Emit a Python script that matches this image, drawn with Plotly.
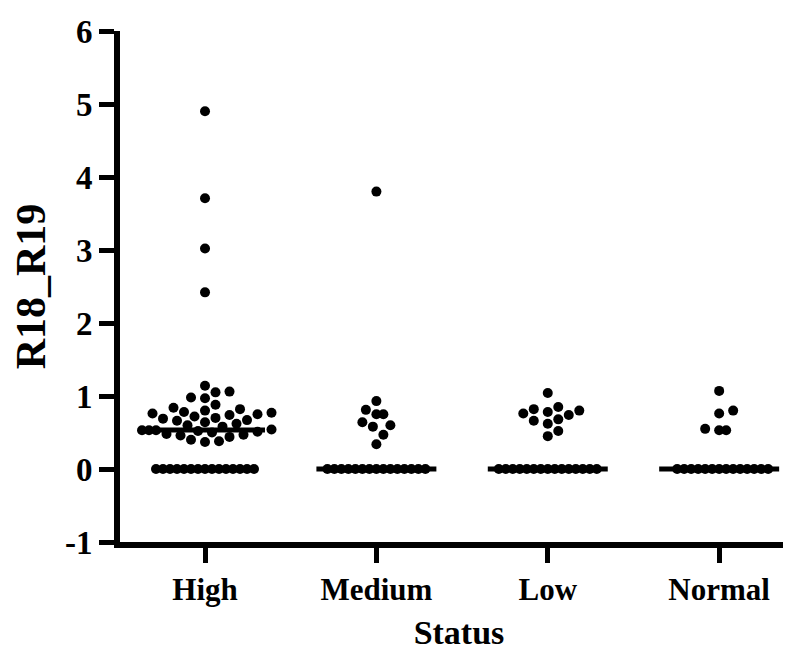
import numpy as np
import plotly.graph_objects as go

categories = ["High", "Medium", "Low", "Normal"]

high_values = [4.90, 3.71, 3.02, 2.42,
               1.14, 1.06, 1.05, 0.98, 0.97, 0.88,
               0.84, 0.82, 0.80, 0.78, 0.77, 0.76, 0.75, 0.74, 0.72, 0.70,
               0.69, 0.67, 0.66, 0.64, 0.62, 0.60, 0.58,
               0.54, 0.53, 0.53, 0.53,
               0.52, 0.51, 0.50, 0.48, 0.47, 0.46, 0.44, 0.40, 0.38, 0.37,
               0.0, 0.0, 0.0, 0.0, 0.0, 0.0, 0.0, 0.0, 0.0, 0.0, 0.0, 0.0, 0.0, 0.0, 0.0]
medium_values = [3.80, 0.93, 0.81, 0.75, 0.75, 0.64, 0.60, 0.58, 0.47, 0.34,
                 0.0, 0.0, 0.0, 0.0, 0.0, 0.0, 0.0, 0.0, 0.0, 0.0, 0.0, 0.0, 0.0, 0.0, 0.0]
low_values = [1.04, 0.85, 0.82, 0.80, 0.78, 0.76, 0.74, 0.68, 0.66, 0.62, 0.52, 0.45,
              0.0, 0.0, 0.0, 0.0, 0.0, 0.0, 0.0, 0.0, 0.0, 0.0, 0.0, 0.0, 0.0, 0.0, 0.0]
normal_values = [1.07, 0.80, 0.76, 0.55, 0.53, 0.53,
                 0.0, 0.0, 0.0, 0.0, 0.0, 0.0, 0.0, 0.0, 0.0, 0.0, 0.0, 0.0, 0.0, 0.0]

y_tick_values = [-1, 0, 1, 2, 3, 4, 5, 6]

series = [high_values, medium_values, low_values, normal_values]

# layout geometry (pixels)
W, H = 791, 656
ML, MR, MT, MB = 112, 1, 23, 122
X_RANGE = [-0.496, 3.46]
Y_RANGE = [-1, 6]
px_x = (W - ML - MR) / (X_RANGE[1] - X_RANGE[0])
px_y = (H - MT - MB) / (Y_RANGE[1] - Y_RANGE[0])

DIST_TIE = 7.0    # spacing for identical values (px)
DIST = 11.0       # collision distance otherwise (px)
STEP = 3.5        # horizontal step in px


def swarm_offsets(vals):
    vals = np.asarray(vals, dtype=float)
    order = np.argsort(vals, kind="stable")
    placed = []
    offs = np.zeros(len(vals))
    cands = [0.0]
    for j in range(1, 300):
        cands += [j * STEP, -j * STEP]
    for idx in order:
        vy = vals[idx] * px_y
        for c in cands:
            ok = True
            for (ox, oy) in placed:
                d = DIST_TIE if abs(vy - oy) < 0.5 else DIST
                if (c - ox) ** 2 + (vy - oy) ** 2 < d ** 2 - 1e-6:
                    ok = False
                    break
            if ok:
                offs[idx] = c
                placed.append((c, vy))
                break
    return offs / px_x


fig = go.Figure()
for i, vals in enumerate(series):
    offs = swarm_offsets(vals)
    fig.add_trace(go.Scatter(
        x=i + offs, y=vals, mode="markers",
        marker=dict(color="black", size=10, line=dict(width=0)),
        showlegend=False, hoverinfo="skip"))
    med = float(np.median(vals))
    fig.add_trace(go.Scatter(
        x=[i - 0.35, i + 0.35], y=[med, med], mode="lines",
        line=dict(color="black", width=5),
        showlegend=False, hoverinfo="skip"))

font_family = "Liberation Serif, Times New Roman, serif"

fig.update_layout(
    width=W, height=H,
    margin=dict(l=ML, r=MR, t=MT, b=MB),
    paper_bgcolor="white", plot_bgcolor="white",
    font=dict(family=font_family, color="black"),
    xaxis=dict(
        range=X_RANGE, tickmode="array", tickvals=list(range(len(categories))),
        ticktext=["<b>%s</b>" % c for c in categories],
        showline=True, linecolor="black", linewidth=6,
        ticks="outside", ticklen=15, tickwidth=5, tickcolor="black",
        showgrid=False, zeroline=False,
        tickfont=dict(size=31, family=font_family),
        title=dict(text="<b>Status</b>", font=dict(size=34, family=font_family), standoff=16),
    ),
    yaxis=dict(
        range=Y_RANGE, tickmode="array", tickvals=y_tick_values,
        ticktext=["<b>%d</b>" % v for v in y_tick_values],
        showline=True, linecolor="black", linewidth=6,
        ticks="outside", ticklen=15, tickwidth=5, tickcolor="black",
        showgrid=False, zeroline=False,
        tickfont=dict(size=33, family=font_family),
        title=dict(text="<b>R18_R19</b>", font=dict(size=42, family=font_family), standoff=14),
    ),
)

fig.write_html("out.html")
